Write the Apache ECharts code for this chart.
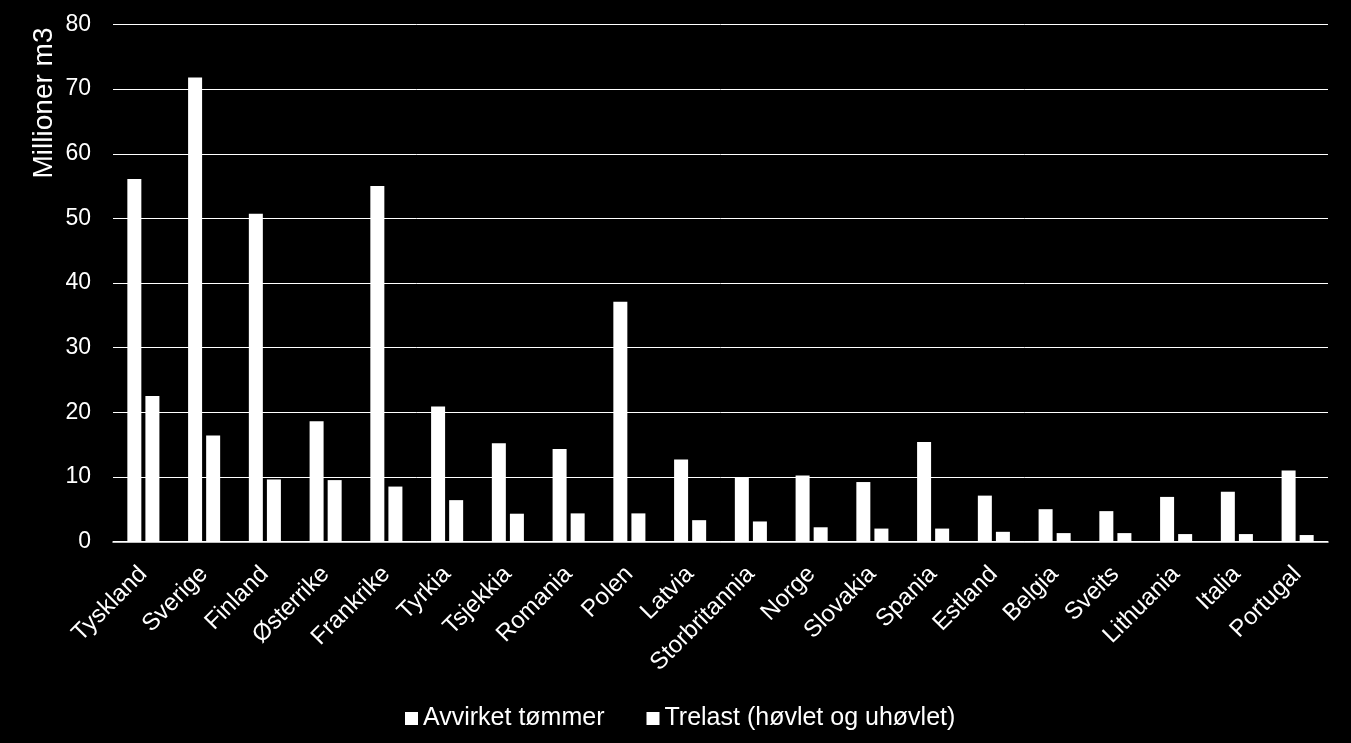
<!DOCTYPE html>
<html>
<head>
<meta charset="utf-8">
<script src="https://cdn.jsdelivr.net/npm/echarts@6/dist/echarts.min.js"></script>
<style>
html,body{margin:0;padding:0;background:#000;}
#chart{width:1351px;height:743px;}
</style>
</head>
<body>
<div id="chart"></div>
<script>
const categories = ['Tyskland','Sverige','Finland','Østerrike','Frankrike','Tyrkia','Tsjekkia','Romania','Polen','Latvia','Storbritannia','Norge','Slovakia','Spania','Estland','Belgia','Sveits','Lithuania','Italia','Portugal'];
const avvirketTommer = [56.1,71.8,50.7,18.6,55.0,20.9,15.2,14.3,37.1,12.7,9.9,10.2,9.2,15.4,7.1,5.0,4.7,6.9,7.7,11.0];
const trelast = [22.5,16.4,9.6,9.5,8.5,6.4,4.3,4.35,4.35,3.3,3.1,2.2,2.0,2.0,1.5,1.3,1.3,1.15,1.15,1.0];
const seriesNames = ['Avvirket tømmer','Trelast (høvlet og uhøvlet)'];
const yTicks = {min:0, max:80, interval:10};
const yTitle = 'Millioner m3';

const font = 'Liberation Sans, Arial, sans-serif';
const chart = echarts.init(document.getElementById('chart'));
chart.setOption({
  backgroundColor:'#000',
  animation:false,
  grid:{left:113, right:23, top:24.5, bottom:201.5, containLabel:false},
  legend:{
    data:seriesNames,
    left:400, top:701,
    itemWidth:13, itemHeight:13, itemGap:42,
    icon:'rect',
    textStyle:{color:'#fff', fontSize:25, fontFamily:font}
  },
  graphic:[{
    type:'text', x:44, y:103, rotation:Math.PI/2,
    style:{text:yTitle, fill:'#fff', font:'28px ' + font, textAlign:'center', textVerticalAlign:'middle'}
  }],
  xAxis:{
    type:'category', data:categories,
    axisLine:{show:true, lineStyle:{color:'#fff', width:1.5}},
    axisTick:{show:false},
    axisLabel:{color:'#fff', fontSize:24, fontFamily:font, rotate:45, interval:0, margin:29, padding:[14,0,0,0]}
  },
  yAxis:{
    type:'value', min:yTicks.min, max:yTicks.max, interval:yTicks.interval,
    axisLine:{show:false}, axisTick:{show:false},
    splitLine:{show:true, lineStyle:{color:'#fff', width:1}},
    axisLabel:{color:'#fff', fontSize:23, fontFamily:font, margin:22}
  },
  series:[
    {name:seriesNames[0], type:'bar', data:avvirketTommer, barWidth:14, barGap:'29%', itemStyle:{color:'#fff'}},
    {name:seriesNames[1], type:'bar', data:trelast, barWidth:14, barGap:'29%', itemStyle:{color:'#fff'}}
  ]
});
</script>
</body>
</html>
